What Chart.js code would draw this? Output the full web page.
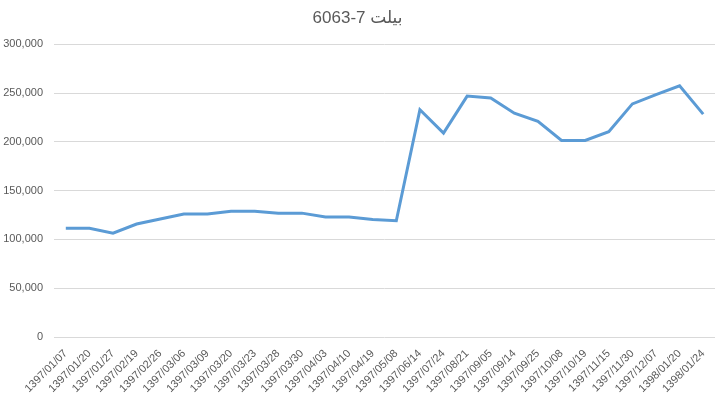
<!DOCTYPE html>
<html><head><meta charset="utf-8">
<script src="https://cdn.jsdelivr.net/npm/chart.js@4/dist/chart.umd.min.js"></script>
<style>html,body{margin:0;padding:0;background:#fff}#wrap{width:715px;height:403px}</style>
</head><body><div id="wrap"><canvas id="c" width="715" height="403"></canvas></div>
<script>
const title = "6063-7 بیلت";
const categories = ["1397/01/07","1397/01/20","1397/01/27","1397/02/19","1397/02/26","1397/03/06","1397/03/09","1397/03/20","1397/03/23","1397/03/28","1397/03/30","1397/04/03","1397/04/10","1397/04/19","1397/05/08","1397/06/14","1397/07/24","1397/08/21","1397/09/05","1397/09/14","1397/09/25","1397/10/08","1397/10/19","1397/11/15","1397/11/30","1397/12/07","1398/01/20","1398/01/24"];
const prices = [111500,111500,106500,115800,121000,126000,126000,129000,129000,127000,127000,123000,123000,120500,119200,233000,209000,247000,245000,229500,221000,201500,201500,210500,239000,248500,257500,228500];
const yTicks = [0,50000,100000,150000,200000,250000,300000];

new Chart(document.getElementById('c'), {
  type: 'line',
  data: { labels: categories, datasets: [{ data: prices, borderColor: '#5b9bd5', borderWidth: 3, pointRadius: 0, tension: 0, fill: false }] },
  options: {
    responsive: false, animation: false,
    layout: { padding: { left: 0, right: 0, top: 6, bottom: 0 } },
    plugins: {
      legend: { display: false }, tooltip: { enabled: false },
      title: { display: true, text: title, color: '#595959', font: { family: 'Liberation Sans, DejaVu Sans', size: 17, weight: 'normal' }, padding: { top: 2, bottom: 16 } }
    },
    scales: {
      x: {
        offset: true,
        afterFit: s => { s.height = 66; s.paddingLeft = 0; s.paddingRight = 0; },
        grid: { display: false, drawTicks: false },
        border: { display: false },
        ticks: { color: '#595959', font: { family: 'Liberation Sans', size: 11 }, maxRotation: 45, minRotation: 45, autoSkip: false, padding: 10 }
      },
      y: {
        min: 0, max: 300000,
        afterBuildTicks: s => { s.ticks = yTicks.map(v => ({ value: v })); },
        afterFit: s => { s.width = 54; s.paddingTop = 0; s.paddingBottom = 0; },
        grid: { color: '#d9d9d9', drawTicks: false },
        border: { display: false },
        ticks: { color: '#595959', font: { family: 'Liberation Sans', size: 11 }, padding: 11, callback: v => v.toLocaleString('en-US') }
      }
    }
  }
});
</script></body></html>
